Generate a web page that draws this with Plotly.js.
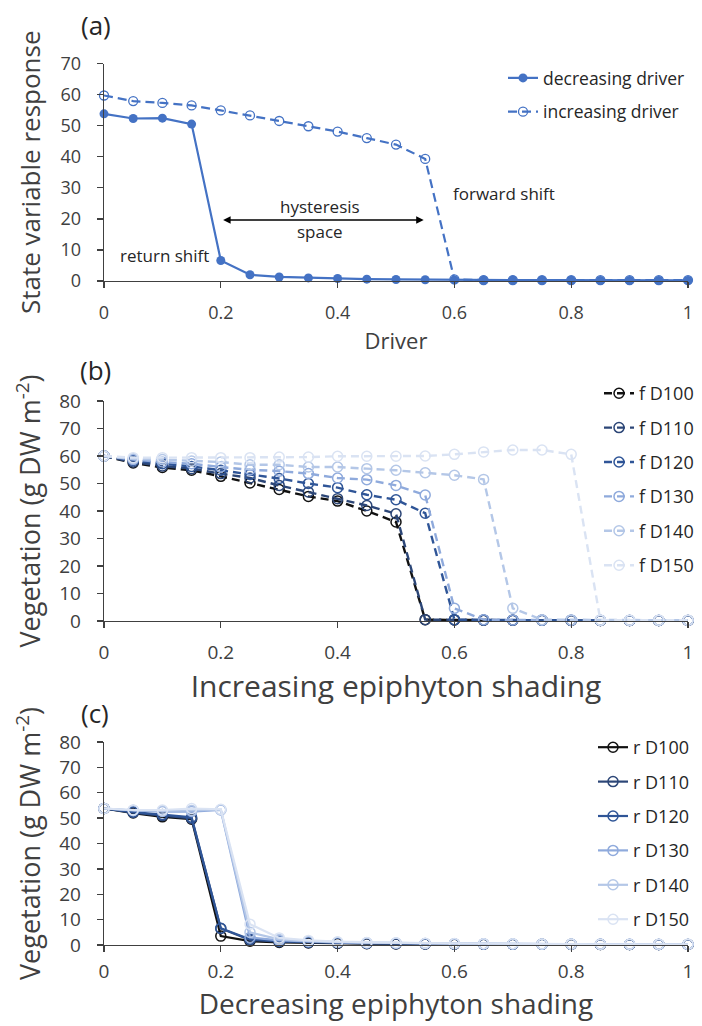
<!DOCTYPE html>
<html>
<head>
<meta charset="utf-8">
<script src="https://cdn.plot.ly/plotly-3.0.1.min.js"></script>
<style>html,body{margin:0;padding:0;background:#fff;}#chart{width:702px;height:1026px;}</style>
</head>
<body>
<div id="chart"></div>
<script>
// ---------- data ----------
const xVals = [0,0.05,0.1,0.15,0.2,0.25,0.3,0.35,0.4,0.45,0.5,0.55,0.6,0.65,0.7,0.75,0.8,0.85,0.9,0.95,1];

// panel (a)
const decreasingDriver = [53.8,52.3,52.4,50.5,6.6,2.0,1.3,1.0,0.8,0.6,0.5,0.4,0.35,0.3,0.3,0.25,0.25,0.2,0.2,0.2,0.2];
const increasingDriver = [59.7,57.9,57.3,56.5,54.9,53.3,51.5,49.8,48.1,46.0,43.9,39.3,0.5,0.3,0.3,0.3,0.3,0.3,0.3,0.3,0.3];

// panel (b) forward (increasing shading)
const fD100 = [60,57.5,55.8,54.8,52.6,50.2,47.8,45.3,43.6,40.0,36.0,0.5,0.4,0.3,0.3,0.3,0.2,0.2,0.2,0.2,0.2];
const fD110 = [60,57.8,56.4,55.4,53.6,52.0,49.3,46.9,44.5,42.0,39.0,0.5,0.4,0.3,0.3,0.3,0.2,0.2,0.2,0.2,0.2];
const fD120 = [60,58.4,57.2,56.2,54.8,53.3,51.8,50.0,48.5,45.9,44.1,39.2,0.5,0.4,0.3,0.3,0.3,0.2,0.2,0.2,0.2];
const fD130 = [60,58.7,57.8,57.2,56.0,55.0,54.5,53.6,52.0,51.4,49.3,45.8,4.6,0.5,0.4,0.3,0.3,0.3,0.2,0.2,0.2];
const fD140 = [60,59.0,58.7,58.2,57.8,56.8,56.8,56.0,56.0,55.4,54.8,53.9,53.0,51.5,4.6,0.5,0.4,0.3,0.3,0.3,0.3];
const fD150 = [60,59.4,59.4,59.4,59.4,59.4,59.6,59.6,59.9,59.9,59.9,60.0,60.6,61.5,62.2,62.2,60.6,0.3,0.3,0.3,0.3];

// panel (c) return (decreasing shading)
const rD100 = [53.8,52.0,50.5,49.6,3.5,1.5,1.0,0.8,0.6,0.5,0.4,0.4,0.3,0.3,0.3,0.3,0.2,0.2,0.2,0.2,0.2];
const rD110 = [53.8,52.2,51.0,49.9,6.5,2.0,1.3,1.0,0.8,0.6,0.5,0.4,0.4,0.3,0.3,0.3,0.3,0.2,0.2,0.2,0.2];
const rD120 = [53.8,52.4,51.4,50.3,6.6,2.3,1.5,1.1,0.9,0.7,0.6,0.5,0.4,0.4,0.3,0.3,0.3,0.3,0.2,0.2,0.2];
const rD130 = [53.8,53.0,52.6,52.6,53.2,3.0,1.8,1.3,1.0,0.8,0.7,0.6,0.5,0.4,0.4,0.3,0.3,0.3,0.3,0.2,0.2];
const rD140 = [53.8,53.1,52.8,53.0,53.3,5.0,2.2,1.5,1.1,0.9,0.8,0.6,0.5,0.5,0.4,0.4,0.3,0.3,0.3,0.3,0.3];
const rD150 = [53.8,53.2,53.2,53.8,53.5,8.2,2.8,1.8,1.3,1.0,0.9,0.7,0.6,0.5,0.5,0.4,0.4,0.3,0.3,0.3,0.3];

const fNames = ['f D100','f D110','f D120','f D130','f D140','f D150'];
const rNames = ['r D100','r D110','r D120','r D130','r D140','r D150'];
const fSeries = [fD100,fD110,fD120,fD130,fD140,fD150];
const rSeries = [rD100,rD110,rD120,rD130,rD140,rD150];
const shadeColors = ['#111111','#2c4677','#2f5597','#8faadc','#b4c7e7','#dae3f3'];

// ---------- style ----------
const FONT = '"Open Sans", sans-serif';
const TXT = '#404040';
const AX = '#404040';
const blue = '#4472c4';
const H = 1026;
const py = p => 1 - p / H;           // pixel row -> paper y (margins t=b=0)
const px = p => (p - 104) / 584;     // pixel col -> paper x

const traces = [];
traces.push({x:xVals, y:decreasingDriver, name:'decreasing driver', type:'scatter', mode:'lines+markers',
  xaxis:'x', yaxis:'y', legend:'legend', legendgroup:'a1', cliponaxis:false,
  line:{color:blue, width:2.2}, marker:{symbol:'circle', size:9, color:blue}});
traces.push({x:xVals, y:increasingDriver, name:'increasing driver', type:'scatter', mode:'lines+markers',
  xaxis:'x', yaxis:'y', legend:'legend', legendgroup:'a2', cliponaxis:false,
  line:{color:blue, width:2.2, dash:'9px,5px'}, marker:{symbol:'circle-open', size:9, color:blue, line:{width:1.3}}});

fSeries.forEach((s,i)=>traces.push({x:xVals, y:s, name:fNames[i], type:'scatter', mode:'lines+markers',
  xaxis:'x2', yaxis:'y2', legend:'legend2', legendgroup:'b'+i, cliponaxis:false,
  line:{color:shadeColors[i], width:2.4, dash:'8px,5px'},
  marker:{symbol:'circle-open', size:10, color:shadeColors[i], line:{width:1.5}}}));

rSeries.forEach((s,i)=>traces.push({x:xVals, y:s, name:rNames[i], type:'scatter', mode:'lines+markers',
  xaxis:'x3', yaxis:'y3', legend:'legend3', legendgroup:'c'+i, cliponaxis:false,
  line:{color:shadeColors[i], width:2.2},
  marker:{symbol:'circle-open', size:10, color:shadeColors[i], line:{width:1.5}}}));

function xa(anchor, title, tickSize, titleSize, standoff, tickOff){
  return {domain:[0,1], anchor:anchor, range:[0,1], tick0:0, dtick:0.2, showline:true, linecolor:AX, linewidth:1.3,
    ticks:'outside', ticklen:6, tickwidth:1.3, tickcolor:AX, showgrid:false, zeroline:false,
    tickfont:{family:FONT, size:tickSize, color:TXT}, ticklabelstandoff:tickOff, automargin:false,
    title:{text:title, font:{family:FONT, size:titleSize, color:TXT}, standoff:standoff}};
}
function ya(anchor, dom, top, title, tickSize, titleSize, standoff){
  return {domain:dom, anchor:anchor, range:[0,top], tick0:0, dtick:10, showline:true, linecolor:AX, linewidth:1.3,
    ticks:'outside', ticklen:6, tickwidth:1.3, tickcolor:AX, showgrid:false, zeroline:false,
    tickfont:{family:FONT, size:tickSize, color:TXT}, ticklabelstandoff:12, automargin:false,
    title:{text:title, font:{family:FONT, size:titleSize, color:TXT}, standoff:standoff}};
}
function leg(xp, ytop, fs){
  return {x:px(xp), xanchor:'left', y:py(ytop), yanchor:'top', bgcolor:'rgba(0,0,0,0)',
    font:{family:FONT, size:fs, color:'#262626'}, tracegroupgap:8, itemclick:false, itemdoubleclick:false};
}
function lab(text, xc, yc){
  return {xref:'paper', yref:'paper', x:px(xc), y:py(yc), xanchor:'center', yanchor:'middle', text:text,
    showarrow:false, font:{family:FONT, size:26, color:'#262626'}};
}
function note(text, xv, yv){
  return {xref:'x', yref:'y', x:xv, y:yv, xanchor:'center', yanchor:'middle', text:text, showarrow:false,
    font:{family:FONT, size:17, color:'#262626'}};
}

const vegTitle = 'Vegetation (g DW m<sup>-2</sup>)';
const layout = {
  width:702, height:1026, paper_bgcolor:'#fff', plot_bgcolor:'#fff', showlegend:true,
  margin:{l:104, r:14, t:0, b:0},
  font:{family:FONT, color:TXT},
  xaxis: xa('y', 'Driver', 18, 22, 10, 9),
  yaxis: ya('x', [py(281), py(63.5)], 70, 'State variable response', 18, 26, 12),
  xaxis2: xa('y2', 'Increasing epiphyton shading', 19, 30, 4, 8),
  yaxis2: ya('x2', [py(621), py(401)], 80, vegTitle, 19, 27, 10),
  xaxis3: xa('y3', 'Decreasing epiphyton shading', 19, 28, 0, 3),
  yaxis3: ya('x3', [py(945), py(742)], 80, vegTitle, 19, 27, 10),
  legend: leg(503, 60, 17.5),
  legend2: leg(599, 375, 18),
  legend3: leg(593, 729, 18),
  annotations:[
    lab('(a)', 96, 25),
    lab('(b)', 95, 370),
    lab('(c)', 95, 713),
    {xref:'x', yref:'y', x:0.204, y:19.6, ax:0.55, ay:19.6, axref:'x', ayref:'y', text:'', showarrow:true,
      arrowhead:2, arrowside:'end+start', arrowsize:1, arrowwidth:1.5, arrowcolor:'#000'},
    note('hysteresis', 0.37, 23.9),
    note('space', 0.37, 15.9),
    note('return shift', 0.103, 8.1),
    note('forward shift', 0.685, 28.3)
  ]
};

Plotly.newPlot('chart', traces, layout, {staticPlot:true, displayModeBar:false});
</script>
</body>
</html>
